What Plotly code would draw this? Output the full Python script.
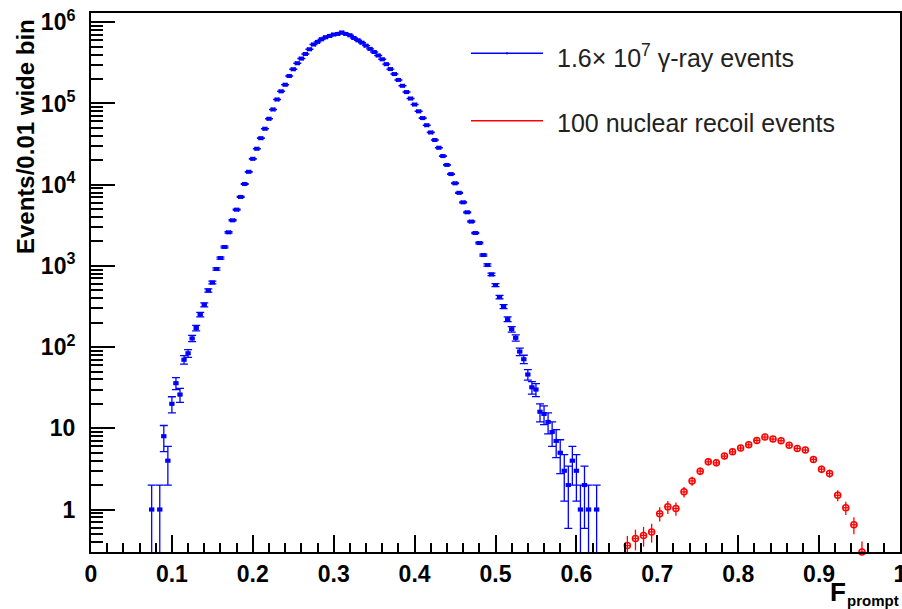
import numpy as np
import plotly.graph_objects as go

# ---- data ----
gamma_f = [0.075, 0.085, 0.090, 0.095, 0.100, 0.105, 0.110, 0.115, 0.120, 0.125,
           0.130, 0.135, 0.140, 0.145, 0.150, 0.155, 0.160, 0.165, 0.170, 0.175,
           0.180, 0.185, 0.190, 0.195, 0.200, 0.205, 0.210, 0.215, 0.220, 0.225,
           0.230, 0.235, 0.240, 0.245, 0.250, 0.255, 0.260, 0.265, 0.270, 0.275,
           0.280, 0.285, 0.290, 0.295, 0.300, 0.305, 0.310, 0.315, 0.320, 0.325,
           0.330, 0.335, 0.340, 0.345, 0.350, 0.355, 0.360, 0.365, 0.370, 0.375,
           0.380, 0.385, 0.390, 0.395, 0.400, 0.405, 0.410, 0.415, 0.420, 0.425,
           0.430, 0.435, 0.440, 0.445, 0.450, 0.455, 0.460, 0.465, 0.470, 0.475,
           0.480, 0.485, 0.490, 0.495, 0.500, 0.505, 0.510, 0.515, 0.520, 0.525,
           0.530, 0.535, 0.540, 0.545, 0.550, 0.555, 0.560, 0.565, 0.570, 0.575,
           0.580, 0.585, 0.590, 0.595, 0.600, 0.605, 0.610, 0.615, 0.625]
gamma_counts = [1, 1, 8, 4, 20, 36, 26, 70, 84, 128,
                172, 252, 332, 498, 625, 915, 1250, 1710, 2590, 3640,
                4930, 7070, 10200, 14400, 20800, 27700, 37400, 48800, 64800, 84400,
                112000, 141000, 170000, 218000, 264000, 313000, 357000, 407000, 465000, 532000,
                573000, 618000, 654000, 679000, 706000, 718000, 748000, 718000, 692000, 641000,
                600000, 560000, 515000, 470000, 430000, 390000, 350000, 305000, 265000, 230000,
                195000, 165000, 138000, 115000, 97000, 80000, 66000, 54000, 44000, 35500,
                28500, 22500, 17500, 13500, 10400, 7930, 6060, 4570, 3510, 2540,
                1910, 1360, 1024, 785, 580, 413, 316, 221, 166, 130,
                88, 71, 46, 32, 30, 16, 15, 12, 9, 7,
                5, 3, 2, 4, 3, 1, 2, 1, 1]

nr_f = [0.663, 0.673, 0.683, 0.693, 0.703, 0.713, 0.723, 0.733, 0.743, 0.753,
        0.763, 0.773, 0.783, 0.793, 0.803, 0.813, 0.823, 0.833, 0.843, 0.853,
        0.863, 0.873, 0.883, 0.893, 0.903, 0.913, 0.923, 0.933, 0.943, 0.953]
nr_counts = [0.36, 0.44, 0.48, 0.53, 0.89, 1.08, 1.03, 1.65, 2.25, 2.97,
             3.87, 3.76, 4.55, 5.14, 5.71, 6.27, 7.10, 7.80, 7.37, 7.03,
             6.21, 5.65, 5.40, 4.14, 3.14, 2.78, 1.50, 1.05, 0.65, 0.30]
NR_WEIGHT = 0.036  # per-event weight of the normalised recoil histogram

gamma_bin_half = 0.0025
nr_bin_half = 0.005

x_tick_vals = [0, 0.1, 0.2, 0.3, 0.4, 0.5, 0.6, 0.7, 0.8, 0.9, 1.0]
x_tick_text = ["0", "0.1", "0.2", "0.3", "0.4", "0.5", "0.6", "0.7", "0.8", "0.9", "1"]
y_tick_vals = [1, 10, 100, 1e3, 1e4, 1e5, 1e6]
y_tick_text = ["1", "10", "10<sup>2</sup>", "10<sup>3</sup>", "10<sup>4</sup>",
               "10<sup>5</sup>", "10<sup>6</sup>"]

legend_labels = ["1.6\u00d7 10<sup>7</sup> \u03b3-ray events", "100 nuclear recoil events"]
y_title = "Events/0.01 wide bin"
x_title_main = "F"
x_title_sub = "prompt"

BLUE = "#0000ff"
RED = "#ff0000"
FONT = "Liberation Sans"

# ---- error bars ----
g = np.array(gamma_counts, dtype=float)
g_err = np.sqrt(g)
g_err_minus = np.where(g - g_err <= 0, g - 0.05, g_err)

r = np.array(nr_counts, dtype=float)
r_err = np.sqrt(r * NR_WEIGHT)

fig = go.Figure()
fig.add_trace(go.Scatter(
    x=gamma_f, y=g, mode="markers",
    marker=dict(symbol="square", size=4, color=BLUE),
    error_y=dict(type="data", array=g_err, arrayminus=g_err_minus,
                 color=BLUE, thickness=1.3, width=4),
    error_x=dict(type="constant", value=gamma_bin_half, color=BLUE,
                 thickness=1.3, width=2),
    showlegend=False,
))
fig.add_trace(go.Scatter(
    x=nr_f, y=r, mode="markers",
    marker=dict(symbol="circle-open", size=6, color=RED, line=dict(width=1.5, color=RED)),
    error_y=dict(type="data", array=r_err, color=RED, thickness=1.3, width=0),
    error_x=dict(type="constant", value=nr_bin_half * 0.8, color=RED, thickness=1.3, width=0),
    cliponaxis=False,
    showlegend=False,
))

L, R, T, B = 91, 2, 13, 57
W, H = 902, 609
pw, ph = W - L - R, H - T - B

def px_x(px):
    return (px - L) / pw

def px_y(py):
    return (H - B - py) / ph

# hand-drawn legend (no frame), like the ROOT TLegend
legend_rows = [(53.3, 56.0, BLUE, legend_labels[0]), (120.7, 123.0, RED, legend_labels[1])]
for line_y, text_y, col, lab in legend_rows:
    fig.add_shape(type="line", xref="paper", yref="paper",
                  x0=px_x(471), x1=px_x(543), y0=px_y(line_y), y1=px_y(line_y),
                  line=dict(color=col, width=1.5))
    fig.add_annotation(xref="paper", yref="paper", x=px_x(555), y=px_y(text_y),
                       xanchor="left", yanchor="middle", text=lab, showarrow=False,
                       font=dict(family=FONT, size=25, color="#222222"))
fig.add_shape(type="line", xref="paper", yref="paper",
              x0=px_x(507), x1=px_x(507), y0=px_y(52), y1=px_y(54.6),
              line=dict(color=BLUE, width=1))

fig.add_annotation(xref="paper", yref="paper", x=px_x(847), y=px_y(592),
                   xanchor="right", yanchor="middle", text="<b>" + x_title_main + "</b>",
                   showarrow=False, font=dict(family=FONT, size=26, color="black"),
                   borderpad=0)
fig.add_annotation(xref="paper", yref="paper", x=px_x(846), y=px_y(600),
                   xanchor="left", yanchor="middle", text="<b>" + x_title_sub + "</b>",
                   showarrow=False, font=dict(family=FONT, size=15, color="black"),
                   borderpad=0)
fig.add_annotation(xref="paper", yref="paper", x=px_x(25), y=px_y(137),
                   xanchor="center", yanchor="middle", text="<b>" + y_title + "</b>",
                   textangle=-90, showarrow=False,
                   font=dict(family=FONT, size=24, color="black"))

minor_y = []
for dec in range(-1, 6):
    for m in range(2, 10):
        v = m * 10.0 ** dec
        if 0.3 <= v <= 1.3e6:
            minor_y.append(v)

fig.update_layout(
    width=W, height=H,
    margin=dict(l=L, r=R, t=T, b=B, autoexpand=False),
    paper_bgcolor="white", plot_bgcolor="white",
    font=dict(family=FONT, color="black"),
    xaxis=dict(range=[0, 1], tickmode="array", tickvals=x_tick_vals, ticktext=x_tick_text,
               ticks="inside", ticklen=17, tickwidth=1.5, tickcolor="black",
               showline=True, linewidth=2, linecolor="black", mirror=True,
               showgrid=False, zeroline=False, automargin=False,
               ticklabeloverflow="allow",
               tickfont=dict(family=FONT, size=23, color="black", weight="bold"),
               minor=dict(tickmode="array", tickvals=[i * 0.02 for i in range(51)],
                          ticks="inside", ticklen=9, tickwidth=1.5, tickcolor="black",
                          showgrid=False)),
    yaxis=dict(type="log", range=[np.log10(0.3), np.log10(1.3e6)],
               tickmode="array", tickvals=y_tick_vals, ticktext=y_tick_text,
               ticks="inside", ticklen=24, tickwidth=1.5, tickcolor="black",
               showline=True, linewidth=2, linecolor="black", mirror=True,
               showgrid=False, zeroline=False, automargin=False,
               tickfont=dict(family=FONT, size=23, color="black", weight="bold"),
               ticklabelstandoff=9,
               minor=dict(tickmode="array", tickvals=minor_y,
                          ticks="inside", ticklen=12, tickwidth=1.5, tickcolor="black",
                          showgrid=False)),
)

fig.write_html(
    "out.html",
    config={"displayModeBar": False},
    post_script="document.body.style.margin='0';document.body.style.padding='0';"
                "document.body.style.overflow='hidden';",
)
